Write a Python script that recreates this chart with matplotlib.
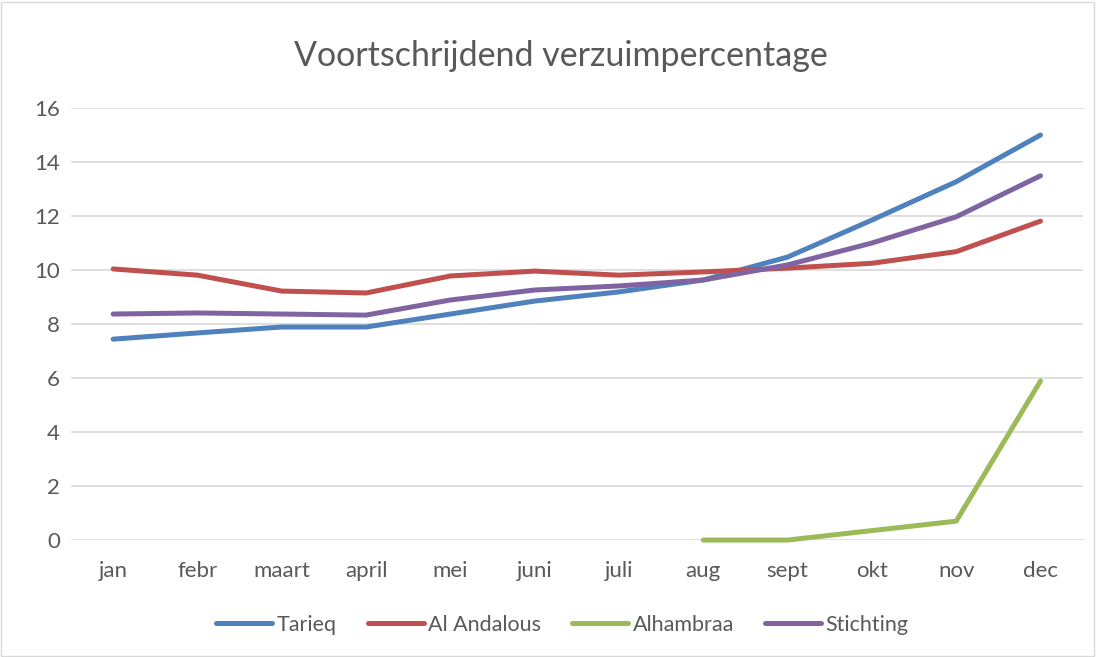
import matplotlib
matplotlib.use('Agg')
import matplotlib.pyplot as plt
import numpy as np

months = ['jan', 'febr', 'maart', 'april', 'mei', 'juni', 'juli', 'aug', 'sept', 'okt', 'nov', 'dec']
tarieq = [7.44, 7.67, 7.89, 7.89, 8.37, 8.85, 9.19, 9.63, 10.48, 11.85, 13.27, 15.0]
al_andalous = [10.04, 9.81, 9.22, 9.15, 9.78, 9.96, 9.81, 9.93, 10.07, 10.25, 10.68, 11.81]
alhambraa = [None, None, None, None, None, None, None, 0.0, 0.0, 0.35, 0.7, 5.89]
stichting = [8.37, 8.41, 8.37, 8.33, 8.89, 9.26, 9.41, 9.63, 10.19, 11.0, 11.97, 13.49]

plt.rcParams['font.family'] = ['Lato', 'DejaVu Sans']

fig = plt.figure(figsize=(10.96, 6.57), dpi=100)
ax = fig.add_axes([0.0648, 0.178, 0.923, 0.6576])

x = np.arange(len(months))
series = [
    ('Tarieq', tarieq, '#4F81BD'),
    ('Al Andalous', al_andalous, '#C0504D'),
    ('Alhambraa', alhambraa, '#9BBB59'),
    ('Stichting', stichting, '#8064A2'),
]
for name, vals, col in series:
    v = np.array([np.nan if a is None else a for a in vals], dtype=float)
    ax.plot(x, v, color=col, lw=3.6, label=name, solid_capstyle='round',
            solid_joinstyle='round', clip_on=False, zorder=3)

ax.set_xlim(-0.5, 11.5)
ax.set_ylim(0, 16)
ax.set_yticks(np.arange(0, 17, 2))
ax.set_xticks(x)
ax.set_xticklabels(months)
ax.grid(axis='y', color='#D9D9D9', lw=1.2)
ax.set_axisbelow(True)
for s in ax.spines.values():
    s.set_visible(False)
ax.tick_params(length=0, labelsize=16, colors='#595959')
ax.tick_params(axis='x', pad=15)
ax.tick_params(axis='y', pad=8)

fig.text(0.512, 0.915, 'Voortschrijdend verzuimpercentage', ha='center', va='center',
         fontsize=24.5, color='#595959')

leg = fig.legend(loc='center', bbox_to_anchor=(0.513, 0.049), ncol=4, frameon=False,
                 fontsize=15.5, handlelength=2.6, columnspacing=1.45, handletextpad=0.2)
for t in leg.get_texts():
    t.set_color('#595959')

fig.patches.append(plt.Rectangle((0.001, 0.0015), 0.997, 0.996, transform=fig.transFigure,
                                 fill=False, edgecolor='#D9D9D9', lw=1))

fig.savefig('out.png', dpi=100)
